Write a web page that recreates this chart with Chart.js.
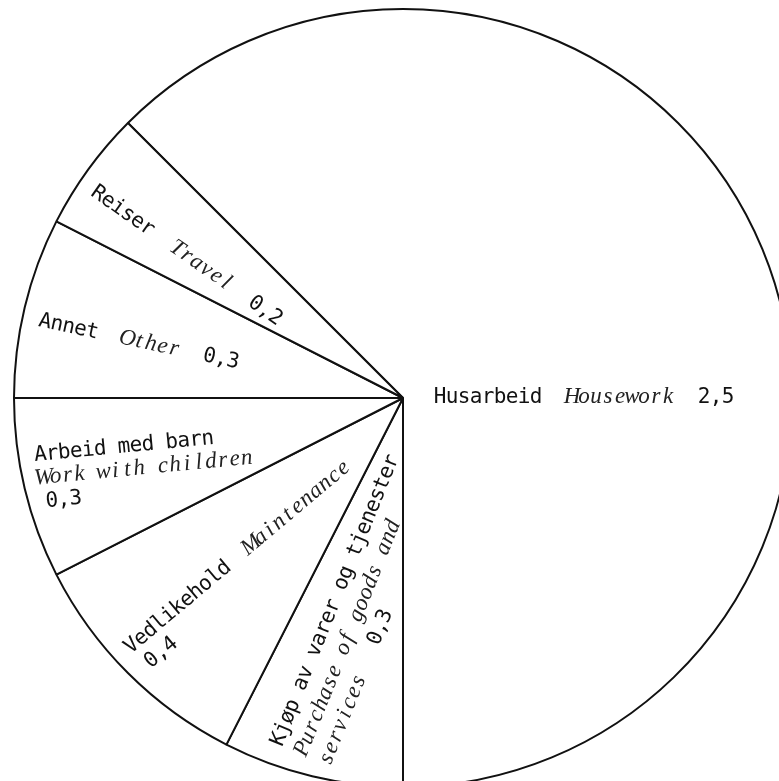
<!DOCTYPE html>
<html>
<head>
<meta charset="utf-8">
<script src="https://cdn.jsdelivr.net/npm/chart.js@4/dist/chart.umd.min.js"></script>
<style>
    html, body { margin: 0; padding: 0; background: #fff; overflow: hidden; }
    body { width: 779px; height: 781px; position: relative; }
    #kake { position: absolute; left: 3px; top: -2px; }
</style>
</head>
<body>
<canvas id="kake" width="800" height="800"></canvas>
<script>
// Tid brukt pr. dag (timer)
const kategorier = ['Husarbeid', 'Kjøp av varer og tjenester', 'Vedlikehold', 'Arbeid med barn', 'Annet', 'Reiser'];
const engelsk = ['Housework', 'Purchase of goods and services', 'Maintenance', 'Work with children', 'Other', 'Travel'];
const timer = [2.5, 0.3, 0.4, 0.3, 0.3, 0.2];

const fontNorsk = '21px "DejaVu Sans Mono", monospace';
const fontEngelsk = 'italic 23px "Liberation Serif", serif';
const tegnBredde = 12;  // skrivemaskin: fast bredde pr. tegn

// plassering av tekstene, relativt til sentrum av kaka
const etiketter = [
    { dx: 31, dy: 5, rot: 0, avstand: 24, linjer: [['n', 'e', 'v']] },
    { dx: -121, dy: 349, rot: -68, avstand: 26, mellom: [24, 24, 34], linjer: [['n'], ['e0'], ['e1', 'v']] },
    { dx: -272, dy: 256, rot: -40, avstand: 24, innrykk: [0, 6], linjer: [['n', 'e'], ['v']] },
    { dx: -368, dy: 63, rot: -5.5, avstand: 23.5, innrykk: [0, 1, 7], linjer: [['n'], ['e'], ['v']] },
    { dx: -365, dy: -72, rot: 12, avstand: 24, linjer: [['n', 'e', 'v']] },
    { dx: -313, dy: -203, rot: 35, avstand: 24, linjer: [['n', 'e', 'v']] }
];

function tekstFor(kode, i) {
    const ord = engelsk[i].split(' ');
    if (kode === 'n') return [kategorier[i], fontNorsk];
    if (kode === 'e') return [engelsk[i], fontEngelsk];
    if (kode === 'e0') return [ord.slice(0, 4).join(' '), fontEngelsk];
    if (kode === 'e1') return [ord.slice(4).join(' '), fontEngelsk];
    return [timer[i].toFixed(1).replace('.', ','), fontNorsk];
}

const tekstPlugin = {
    id: 'tekstPlugin',
    afterDatasetsDraw(chart) {
        const ctx = chart.ctx;
        const buer = chart.getDatasetMeta(0).data;
        etiketter.forEach(function (e, i) {
            const bue = buer[i];
            ctx.save();
            ctx.translate(bue.x + e.dx, bue.y + e.dy);
            ctx.rotate(e.rot * Math.PI / 180);
            ctx.textBaseline = 'alphabetic';
            ctx.textAlign = 'center';
            e.linjer.forEach(function (linje, j) {
                let x = e.innrykk ? e.innrykk[j] : 0;
                const y = j * e.avstand;
                const gap = e.mellom ? e.mellom[j] : 24;
                linje.forEach(function (kode) {
                    const [tekst, font] = tekstFor(kode, i);
                    ctx.font = font;
                    ctx.fillStyle = font === fontEngelsk ? '#222' : '#111';
                    // hvert tegn midt i sin egen rute
                    for (const c of tekst) {
                        ctx.fillText(c, x + tegnBredde / 2, y);
                        x += tegnBredde;
                    }
                    x += gap;
                });
            });
            ctx.restore();
        });
    }
};

new Chart(document.getElementById('kake').getContext('2d'), {
    type: 'pie',
    data: {
        labels: kategorier,
        datasets: [{
            data: timer,
            backgroundColor: '#fff',
            borderColor: '#111',
            borderWidth: 2,
            radius: 389
        }]
    },
    options: {
        responsive: false,
        devicePixelRatio: 1,
        animation: false,
        rotation: -45,
        layout: { padding: 0 },
        plugins: {
            legend: { display: false },
            tooltip: { enabled: false }
        }
    },
    plugins: [tekstPlugin]
});
</script>
</body>
</html>
